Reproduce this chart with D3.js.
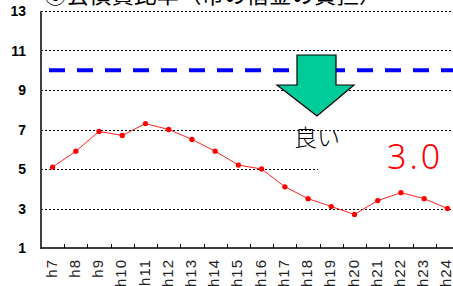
<!DOCTYPE html>
<html>
<head>
<meta charset="utf-8">
<script src="https://cdn.jsdelivr.net/npm/d3@7"></script>
<style>
  body { margin: 0; background: #fff; overflow: hidden; }
  svg { display: block; }
</style>
</head>
<body>
<script>
// data
var years = ["h7","h8","h9","h10","h11","h12","h13","h14","h15","h16","h17","h18","h19","h20","h21","h22","h23","h24"];
var ratio = [5.1, 5.9, 6.9, 6.7, 7.3, 7.0, 6.5, 5.9, 5.2, 5.0, 4.1, 3.5, 3.1, 2.7, 3.4, 3.8, 3.5, 3.0];
var yTicks = [1, 3, 5, 7, 9, 11, 13];
var targetLine = 10;
var title = "⑥公債費比率（市の借金の負担）";
var latestLabel = "3.0";

var w = 453, h = 286;
var plot = {left: 41, top: 11, bottom: 248, right: 459};

var svg = d3.select("body").append("svg")
    .attr("width", w)
    .attr("height", h);

var x = d3.scaleBand().domain(years).range([plot.left, plot.right]);
var y = d3.scaleLinear().domain([1, 13]).range([plot.bottom, plot.top]);

// title (cut off at top)
svg.append("text")
    .attr("x", 44)
    .attr("y", 3)
    .style("font-family", "'Noto Sans CJK JP'")
    .style("font-size", "22.5px")
    .attr("fill", "#000")
    .text(title);

// grid lines
svg.selectAll(".grid")
    .data(yTicks.filter(function(d) { return d > 1; }))
    .enter().append("line")
    .attr("class", "grid")
    .attr("x1", plot.left)
    .attr("x2", w)
    .attr("y1", function(d) { return Math.round(y(d)) + 0.5; })
    .attr("y2", function(d) { return Math.round(y(d)) + 0.5; })
    .attr("stroke", "#000")
    .attr("stroke-width", 1)
    .attr("stroke-dasharray", "2,2");

// y tick labels
svg.selectAll(".ylab")
    .data(yTicks)
    .enter().append("text")
    .attr("class", "ylab")
    .attr("x", 26)
    .attr("y", function(d) { return y(d) + 5; })
    .attr("text-anchor", "end")
    .style("font-family", "'Liberation Sans', Arial")
    .style("font-weight", "bold")
    .style("font-size", "14px")
    .text(function(d) { return d; });

// axes lines
svg.append("line")
    .attr("x1", plot.left).attr("x2", plot.left)
    .attr("y1", plot.top).attr("y2", plot.bottom + 1)
    .attr("stroke", "#000").attr("stroke-width", 1.5);

svg.append("line")
    .attr("x1", plot.left).attr("x2", w)
    .attr("y1", plot.bottom).attr("y2", plot.bottom)
    .attr("stroke", "#000").attr("stroke-width", 1.5);

// x ticks between categories
svg.selectAll(".xtick")
    .data(years.slice(1))
    .enter().append("line")
    .attr("class", "xtick")
    .attr("x1", function(d) { return Math.round(x(d)) + 0.5; })
    .attr("x2", function(d) { return Math.round(x(d)) + 0.5; })
    .attr("y1", plot.bottom - 4)
    .attr("y2", plot.bottom)
    .attr("stroke", "#000");

// x labels, rotated
svg.selectAll(".xlab")
    .data(years)
    .enter().append("text")
    .attr("class", "xlab")
    .attr("transform", function(d) {
        return "translate(" + (x(d) + x.bandwidth() / 2 + 4) + "," + 259 + ") rotate(-90)";
    })
    .attr("text-anchor", "end")
    .style("font-family", "'Liberation Sans', Arial")
    .style("font-size", "15px")
    .style("letter-spacing", "1px")
    .attr("fill", "#222")
    .text(function(d) { return d; });

// target dashed line
svg.append("line")
    .attr("x1", 49).attr("x2", w)
    .attr("y1", y(targetLine)).attr("y2", y(targetLine))
    .attr("stroke", "#0000ff")
    .attr("stroke-width", 4)
    .attr("stroke-dasharray", "16,12");

// white box behind label "3.0"
svg.append("rect")
    .attr("x", 318).attr("y", 140)
    .attr("width", 140).attr("height", 38)
    .attr("fill", "#fff");

// data line
var line = d3.line()
    .x(function(d, i) { return x(years[i]) + x.bandwidth() / 2; })
    .y(function(d) { return y(d); });

svg.append("path")
    .datum(ratio)
    .attr("d", line)
    .attr("fill", "none")
    .attr("stroke", "#ff2020")
    .attr("stroke-width", 1);

svg.selectAll(".pt")
    .data(ratio)
    .enter().append("path")
    .attr("class", "pt")
    .attr("transform", function(d, i) {
        return "translate(" + (x(years[i]) + x.bandwidth() / 2) + "," + y(d) + ")";
    })
    .attr("d", d3.symbol().type(d3.symbolCircle).size(22))
    .attr("fill", "#ff0000");

// arrow
var ax = 317;
var arrowPts = [[297, 55], [336, 55], [336, 85], [354, 85], [ax, 116], [277, 85], [297, 85]];
svg.append("polygon")
    .attr("points", arrowPts.map(function(p) { return p.join(","); }).join(" "))
    .attr("fill", "#00cc99")
    .attr("stroke", "#000")
    .attr("stroke-width", 1.2);

svg.append("text")
    .attr("x", ax)
    .attr("y", 146)
    .attr("text-anchor", "middle")
    .style("font-family", "'Noto Sans CJK JP'")
    .style("font-weight", "300")
    .style("font-size", "23px")
    .text("良い");

svg.append("text")
    .attr("x", 387)
    .attr("y", 169)
    .style("font-family", "'Noto Sans', sans-serif")
    .style("font-weight", "300")
    .style("font-size", "34px")
    .style("letter-spacing", "3px")
    .attr("fill", "#ff0000")
    .text(latestLabel);
</script>
</body>
</html>
